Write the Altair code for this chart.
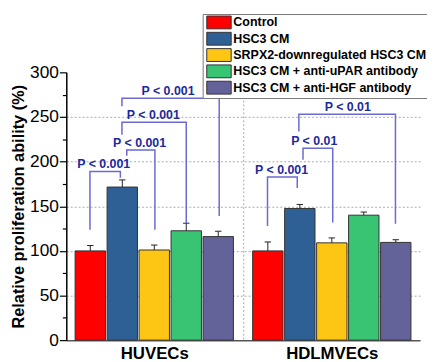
import altair as alt
import pandas as pd

# ---------------- data ----------------
groups = ["HUVECs", "HDLMVECs"]
group_centers = [2.75, 8.30]          # x position (in bar-step units) of each group's centre
series = [
    "Control",
    "HSC3 CM",
    "SRPX2-downregulated HSC3 CM",
    "HSC3 CM + anti-uPAR antibody",
    "HSC3 CM + anti-HGF antibody",
]
colors = ["#ff0000", "#2e6096", "#fdc514", "#38c472", "#636399"]

huvec_vals = [100, 171.5, 101, 122.5, 116]
huvec_err = [6, 8, 5.5, 8.5, 6]
hdl_vals = [100, 147.5, 109, 140, 109.5]
hdl_err = [10, 4.5, 5.5, 3.5, 3]

# significance brackets (x in bar-step units, y in %)
br_xl = [0.74, 1.89, 1.74, 1.74, 6.29, 7.40, 7.27]
br_xr = [1.69, 2.77, 3.75, 4.78, 7.22, 8.33, 10.29]
br_top = [189, 213, 244, 271, 182.7, 215, 253]
br_yl = [123.7, 206.7, 230, 262, 128, 202, 233.7]
br_yr = [182, 123.7, 131, 139, 170.5, 131.8, 130.3]
br_label_x = [1.17, 2.29, 2.72, 3.18, 6.73, 7.75, 8.80]
br_text = ["P < 0.001", "P < 0.001", "P < 0.001", "P < 0.001",
           "P < 0.001", "P < 0.01", "P < 0.01"]

y_ticks = list(range(0, 301, 25))
x_domain = [0, 11.06]

# ---------------- tables ----------------
vals = [huvec_vals, hdl_vals]
errs = [huvec_err, hdl_err]
rows = []
for gi, g in enumerate(groups):
    for si, s in enumerate(series):
        pos = group_centers[gi] + (si - 2)
        rows.append(dict(group=g, series=s, pos=pos,
                         left=pos - 0.475, right=pos + 0.475,
                         capl=pos - 0.1, capr=pos + 0.1,
                         value=vals[gi][si], upper=vals[gi][si] + errs[gi][si]))
bar_df = pd.DataFrame(rows)

line_rows = []
for b in range(len(br_xl)):
    pts = [(br_xl[b], br_yl[b]), (br_xl[b], br_top[b]),
           (br_xr[b], br_top[b]), (br_xr[b], br_yr[b])]
    for k, (px, py) in enumerate(pts):
        line_rows.append(dict(bid=b, ord=k, x=px, y=py))
br_df = pd.DataFrame(line_rows)
lab_df = pd.DataFrame(dict(x=br_label_x, y=br_top, text=br_text))

boundary = (group_centers[0] + group_centers[1]) / 2

FONT = "Liberation Sans"
xscale = alt.Scale(domain=x_domain, nice=False, zero=False)
yscale = alt.Scale(domain=[0, 300], nice=False, zero=True)

x_axis = alt.Axis(
    values=[group_centers[0], boundary, group_centers[1]],
    labelExpr=f"datum.value < {boundary - 1} ? '{groups[0]}' : (datum.value > {boundary + 1} ? '{groups[1]}' : '')",
    title=None, ticks=False, tickSize=0,
    domainColor="#555555", domainWidth=1.5,
    labelFont=FONT, labelFontSize=17, labelFontWeight="bold", labelColor="#000000",
    labelPadding=6, labelOverlap=False, labelFlush=False,
    grid=True, gridColor="#aaaaaa", gridDash=[2, 2], gridWidth=1,
    gridOpacity={"condition": {"test": f"abs(datum.value - {boundary}) < 0.5", "value": 1}, "value": 0},
)
y_axis = alt.Axis(
    values=y_ticks,
    labelExpr="datum.value % 50 == 0 ? datum.label : ''",
    title="Relative proliferation ability (%)",
    titleFont=FONT, titleFontSize=16.5, titleFontWeight="bold", titleColor="#000000",
    titlePadding=3,
    tickSize={"condition": {"test": "datum.value % 50 != 0", "value": 4}, "value": 7},
    tickColor="#000000", tickWidth=1.2,
    domainColor="#000000", domainWidth=1.5,
    labelFont=FONT, labelFontSize=17.5, labelColor="#000000", labelPadding=1,
    labelOverlap=False,
    grid=True, gridColor="#aaaaaa", gridDash=[2, 2], gridWidth=1,
    gridOpacity={"condition": {"test": "datum.value % 50 == 0 && datum.value > 0 && datum.value < 300", "value": 1}, "value": 0},
)

legend = alt.Legend(
    orient="none", legendX=138, legendY=-59, title=None,
    padding=1.5, rowPadding=-1.5,
    symbolType="M-1.9,-1H1.9V1H-1.9Z", symbolSize=169,
    symbolOffset=8, labelOffset=7.5,
    symbolStrokeColor="#333333", symbolStrokeWidth=1, symbolOpacity=1,
    labelFont=FONT, labelFontSize=12.6, labelFontWeight="bold", labelColor="#000000",
    labelLimit=400,
    strokeColor="#777777", fillColor="#ffffff",
)

bars = alt.Chart(bar_df).mark_bar(stroke="#333333", strokeWidth=1).encode(
    x=alt.X("left:Q", scale=xscale, axis=x_axis),
    x2="right:Q",
    y=alt.Y("value:Q", scale=yscale, axis=y_axis),
    y2=alt.datum(0),
    color=alt.Color("series:N", scale=alt.Scale(domain=series, range=colors), legend=legend),
)

err = alt.Chart(bar_df).mark_rule(color="#222222", strokeWidth=1).encode(
    x=alt.X("pos:Q", scale=xscale, axis=x_axis),
    y=alt.Y("value:Q", scale=yscale, axis=y_axis),
    y2="upper:Q",
)
caps = alt.Chart(bar_df).mark_rule(color="#222222", strokeWidth=1).encode(
    x=alt.X("capl:Q", scale=xscale, axis=x_axis),
    x2="capr:Q",
    y=alt.Y("upper:Q", scale=yscale, axis=y_axis),
)

brackets = alt.Chart(br_df).mark_line(color="#6a6ad2", strokeWidth=1.5, strokeJoin="miter").encode(
    x=alt.X("x:Q", scale=xscale, axis=x_axis),
    y=alt.Y("y:Q", scale=yscale, axis=y_axis),
    detail="bid:N",
    order="ord:Q",
)

labels = alt.Chart(lab_df).mark_text(
    font=FONT, fontSize=12.5, fontWeight="bold", color="#1c2a9e",
    align="center", baseline="alphabetic", dy=-3.5,
).encode(
    x=alt.X("x:Q", scale=xscale, axis=x_axis),
    y=alt.Y("y:Q", scale=yscale, axis=y_axis),
    text="text:N",
)

chart = alt.layer(bars, err, caps, brackets, labels).properties(
    width=358, height=271,
    padding={"left": 59, "top": 63, "right": 7, "bottom": 20},
    autosize=alt.AutoSizeParams(type="none"),
).configure_view(stroke=None)

chart.save("out.html", embed_options={"renderer": "svg", "actions": False})
